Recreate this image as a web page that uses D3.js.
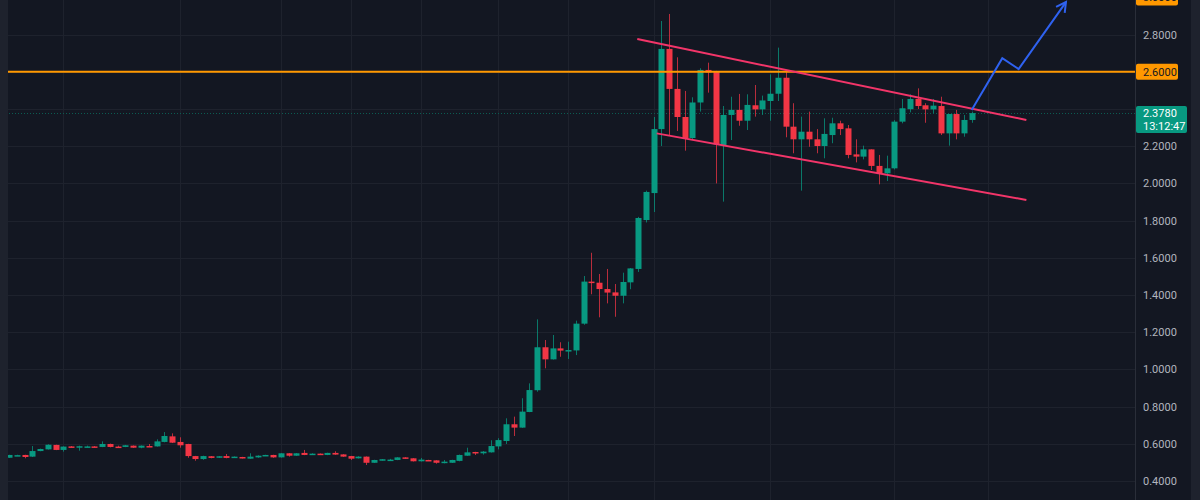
<!DOCTYPE html>
<html>
<head>
<meta charset="utf-8">
<script src="https://cdn.jsdelivr.net/npm/d3@7"></script>
<style>
    html, body { margin: 0; padding: 0; background: #131722; }
    svg { display: block; }
    .y-axis text { fill: #b2b5be; font-family: Roboto, "Noto Sans", sans-serif; font-size: 11px; }
    .y-axis path, .y-axis line { display: none; }
</style>
</head>
<body>
<div id="chart"></div>
<script>
// candle data
var opens = [0.525,0.537,0.540,0.531,0.561,0.570,0.594,0.567,0.586,0.585,0.582,0.586,0.583,0.599,0.585,0.583,0.590,0.579,0.588,0.586,
    0.610,0.640,0.610,0.599,0.534,0.518,0.533,0.525,0.534,0.525,0.529,0.520,0.527,0.536,0.540,0.527,0.549,0.536,0.551,0.543,
    0.547,0.540,0.551,0.543,0.534,0.522,0.531,0.498,0.511,0.513,0.513,0.527,0.522,0.506,0.513,0.511,0.501,0.498,0.508,0.536,
    0.556,0.549,0.554,0.586,0.615,0.705,0.687,0.771,0.888,1.119,1.054,1.113,1.101,1.102,1.246,1.472,1.466,1.432,1.414,1.396,
    1.468,1.540,1.803,1.948,2.292,2.723,2.508,2.357,2.244,2.435,2.610,2.601,2.206,2.368,2.395,2.337,2.420,2.398,2.443,2.482,
    2.568,2.305,2.237,2.278,2.237,2.201,2.260,2.323,2.296,2.156,2.144,2.183,2.094,2.054,2.081,2.332,2.399,2.454,2.420,2.398,
    2.416,2.269,2.373,2.269,2.341];
var highs = [0.541,0.541,0.541,0.588,0.574,0.597,0.595,0.586,0.588,0.590,0.590,0.588,0.613,0.601,0.590,0.594,0.591,0.591,0.599,0.624,
    0.663,0.656,0.635,0.600,0.535,0.536,0.534,0.534,0.545,0.532,0.530,0.549,0.538,0.541,0.541,0.550,0.550,0.550,0.567,0.549,
    0.548,0.552,0.560,0.544,0.535,0.533,0.532,0.514,0.518,0.519,0.528,0.528,0.523,0.524,0.514,0.512,0.513,0.514,0.542,0.579,
    0.557,0.561,0.619,0.630,0.737,0.746,0.845,0.925,1.269,1.158,1.185,1.146,1.149,1.262,1.502,1.627,1.513,1.540,1.459,1.520,
    1.545,1.820,1.961,2.357,2.873,2.911,2.678,2.497,2.463,2.619,2.649,2.605,2.416,2.466,2.481,2.479,2.529,2.472,2.586,2.730,
    2.601,2.431,2.359,2.386,2.292,2.350,2.353,2.337,2.314,2.237,2.203,2.183,2.153,2.149,2.340,2.454,2.479,2.511,2.431,2.454,
    2.466,2.373,2.395,2.368,2.386];
var lows = [0.524,0.536,0.522,0.529,0.560,0.569,0.566,0.558,0.580,0.563,0.581,0.580,0.582,0.581,0.581,0.582,0.578,0.576,0.584,0.585,
    0.608,0.604,0.579,0.525,0.509,0.514,0.522,0.524,0.522,0.524,0.521,0.519,0.525,0.535,0.525,0.526,0.531,0.535,0.539,0.542,
    0.542,0.539,0.541,0.530,0.513,0.521,0.486,0.497,0.510,0.508,0.512,0.519,0.505,0.505,0.510,0.493,0.495,0.497,0.506,0.535,
    0.540,0.542,0.553,0.570,0.599,0.642,0.686,0.770,0.880,1.006,1.053,1.068,1.056,1.077,1.240,1.404,1.280,1.355,1.283,1.355,
    1.431,1.524,1.790,1.846,2.201,2.260,2.282,2.176,2.233,2.386,2.488,2.000,1.902,2.233,2.310,2.287,2.359,2.368,2.337,2.443,
    2.248,2.162,1.961,2.197,2.162,2.135,2.216,2.260,2.135,2.113,2.129,2.072,1.995,2.013,2.075,2.323,2.382,2.400,2.326,2.377,
    2.260,2.203,2.237,2.251,2.326];
var closes = [0.540,0.539,0.529,0.561,0.572,0.595,0.567,0.585,0.581,0.587,0.586,0.581,0.599,0.583,0.583,0.592,0.579,0.590,0.585,0.613,
    0.642,0.606,0.592,0.534,0.518,0.534,0.524,0.533,0.524,0.531,0.522,0.531,0.536,0.540,0.527,0.549,0.536,0.549,0.540,0.547,
    0.543,0.551,0.542,0.531,0.520,0.531,0.498,0.513,0.517,0.515,0.527,0.520,0.506,0.515,0.511,0.498,0.504,0.513,0.540,0.554,
    0.551,0.558,0.588,0.620,0.705,0.687,0.773,0.889,1.119,1.054,1.113,1.101,1.104,1.246,1.472,1.465,1.432,1.413,1.396,1.470,
    1.543,1.814,1.954,2.292,2.723,2.508,2.357,2.244,2.435,2.610,2.597,2.210,2.368,2.395,2.337,2.422,2.398,2.446,2.482,2.568,
    2.305,2.237,2.278,2.237,2.201,2.266,2.323,2.292,2.153,2.144,2.183,2.094,2.054,2.081,2.332,2.404,2.454,2.416,2.398,2.418,
    2.269,2.373,2.269,2.341,2.378];

var priceTicks = [0.4, 0.6, 0.8, 1.0, 1.2, 1.4, 1.6, 1.8, 2.0, 2.2, 2.4, 2.6, 2.8];
var hiddenTickLabels = [2.4, 2.6];
var timeGrid = [7, 22, 35, 44, 53, 63, 72, 83, 98, 114, 126];

// drawings: [candle index, price]
var upperChannel = [[80.9, 2.776], [131.0, 2.341]];
var lowerChannel = [[83.4, 2.269], [131.0, 1.911]];
var arrowPath = [[123.96, 2.395], [127.9, 2.673], [130.0, 2.615], [136.1, 2.975]];
var horizontalLevel = 2.6;
var arrowTarget = 3.0;
var lastPrice = 2.378;
var countdown = "13:12:47";

var data = opens.map(function(o, i){
    return {i: i, o: o, h: highs[i], l: lows[i], c: closes[i]};
});

const W = 1200, H = 500, plotRight = 1135;

const svg = d3.select("#chart")
    .append("svg")
    .attr("width", W)
    .attr("height", H);

svg.append("rect").attr("width", W).attr("height", H).attr("fill", "#131722");

var xScale = d3.scaleLinear().domain([0, 124]).range([9, 972]);
var yScale = d3.scaleLinear().domain([0.4, 2.8]).range([481, 34.6]);

var up = "#089981", down = "#f23645";

// grid
svg.append("g").selectAll("line.hgrid")
    .data(priceTicks)
    .enter().append("line")
    .attr("x1", 0).attr("x2", plotRight)
    .attr("y1", function(d){ return Math.round(yScale(d)) + 0.5; })
    .attr("y2", function(d){ return Math.round(yScale(d)) + 0.5; })
    .attr("stroke", "#1e222d");

svg.append("g").selectAll("line.vgrid")
    .data(timeGrid)
    .enter().append("line")
    .attr("x1", function(d){ return Math.round(xScale(d)) + 0.5; })
    .attr("x2", function(d){ return Math.round(xScale(d)) + 0.5; })
    .attr("y1", 0).attr("y2", H)
    .attr("stroke", "#1e222d");

// last price dotted line
svg.append("line")
    .attr("x1", 0).attr("x2", plotRight)
    .attr("y1", Math.round(yScale(lastPrice)) + 0.5)
    .attr("y2", Math.round(yScale(lastPrice)) + 0.5)
    .attr("stroke", "#0b5c52")
    .attr("stroke-dasharray", "1,2");

// candles
var candles = svg.append("g").attr("class", "candles");

candles.selectAll(".wick")
    .data(data)
    .enter().append("line")
    .attr("class", "wick")
    .attr("x1", function(d){ return Math.round(xScale(d.i)) + 0.5; })
    .attr("x2", function(d){ return Math.round(xScale(d.i)) + 0.5; })
    .attr("y1", function(d){ return yScale(d.h); })
    .attr("y2", function(d){ return yScale(d.l); })
    .attr("stroke", function(d){ return d.c >= d.o ? up : down; })
    .attr("stroke-opacity", 0.75);

candles.selectAll(".body")
    .data(data)
    .enter().append("rect")
    .attr("class", "body")
    .attr("x", function(d){ return Math.round(xScale(d.i)) - 2.5; })
    .attr("width", 6)
    .attr("y", function(d){ return yScale(Math.max(d.o, d.c)); })
    .attr("height", function(d){ return Math.max(1.5, Math.abs(yScale(d.o) - yScale(d.c))); })
    .attr("fill", function(d){ return d.c >= d.o ? up : down; });

// horizontal level
svg.append("line")
    .attr("x1", 0).attr("x2", plotRight)
    .attr("y1", yScale(horizontalLevel)).attr("y2", yScale(horizontalLevel))
    .attr("stroke", "#ff9800")
    .attr("stroke-width", 2);

// channel
var line = d3.line()
    .x(function(d){ return xScale(d[0]); })
    .y(function(d){ return yScale(d[1]); });

[upperChannel, lowerChannel].forEach(function(seg){
    svg.append("path")
        .attr("d", line(seg))
        .attr("fill", "none")
        .attr("stroke", "#f23569")
        .attr("stroke-width", 2);
});

// arrow
svg.append("path")
    .attr("d", line(arrowPath))
    .attr("fill", "none")
    .attr("stroke", "#2f62f0")
    .attr("stroke-width", 2)
    .attr("stroke-linejoin", "miter");

var tip = arrowPath[arrowPath.length - 1], prev = arrowPath[arrowPath.length - 2];
var tx = xScale(tip[0]), ty = yScale(tip[1]);
var ang = Math.atan2(ty - yScale(prev[1]), tx - xScale(prev[0]));
var headLen = 11;
svg.append("path")
    .attr("d", "M" + (tx - headLen * Math.cos(ang - 0.5)) + "," + (ty - headLen * Math.sin(ang - 0.5)) +
        "L" + tx + "," + ty +
        "L" + (tx - headLen * Math.cos(ang + 0.5)) + "," + (ty - headLen * Math.sin(ang + 0.5)))
    .attr("fill", "none")
    .attr("stroke", "#2f62f0")
    .attr("stroke-width", 2);

// price axis panel
svg.append("rect")
    .attr("x", plotRight).attr("y", 0)
    .attr("width", W - plotRight).attr("height", H)
    .attr("fill", "#131722");
svg.append("line")
    .attr("x1", plotRight + 0.5).attr("x2", plotRight + 0.5)
    .attr("y1", 0).attr("y2", H)
    .attr("stroke", "#2a2e39");
svg.append("rect")
    .attr("x", 1191).attr("y", 0).attr("width", 9).attr("height", H)
    .attr("fill", "#1e222d");
svg.append("rect")
    .attr("x", 0).attr("y", 0).attr("width", 8).attr("height", H)
    .attr("fill", "#1e222d");

svg.append("g")
    .attr("class", "y-axis")
    .attr("transform", "translate(" + plotRight + ",0)")
    .call(d3.axisRight(yScale)
        .tickValues(priceTicks.filter(function(d){ return hiddenTickLabels.indexOf(d) < 0; }))
        .tickSize(0)
        .tickPadding(8)
        .tickFormat(d3.format(".4f")));

// labels on the axis
function axisLabel(value, fill, color, h){
    var g = svg.append("g").attr("transform", "translate(" + (plotRight + 1) + "," + yScale(value) + ")");
    g.append("rect")
        .attr("x", 0).attr("y", -h / 2)
        .attr("width", 42).attr("height", h)
        .attr("rx", 2)
        .attr("fill", fill);
    g.append("text")
        .attr("x", 7).attr("dy", "0.35em")
        .attr("fill", color)
        .style("font-family", "Roboto, 'Noto Sans', sans-serif")
        .style("font-size", "11px")
        .text(d3.format(".4f")(value));
}
axisLabel(horizontalLevel, "#ff9800", "#131722", 16);
axisLabel(arrowTarget, "#ff9800", "#131722", 16);

var last = svg.append("g").attr("transform", "translate(" + (plotRight + 1) + "," + yScale(lastPrice) + ")");
last.append("rect")
    .attr("x", 0).attr("y", -7)
    .attr("width", 51).attr("height", 27)
    .attr("rx", 2)
    .attr("fill", up);
last.append("text")
    .attr("x", 7).attr("y", 4)
    .attr("fill", "#ffffff")
    .style("font-family", "Roboto, 'Noto Sans', sans-serif")
    .style("font-size", "11px")
    .text(d3.format(".4f")(lastPrice));
last.append("text")
    .attr("x", 7).attr("y", 17)
    .attr("fill", "#ffffff")
    .style("font-family", "Roboto, 'Noto Sans', sans-serif")
    .style("font-size", "11px")
    .text(countdown);
</script>
</body>
</html>
